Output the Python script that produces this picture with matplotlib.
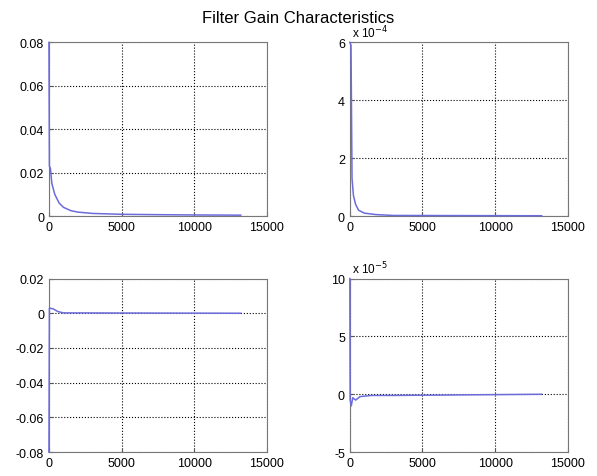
import matplotlib
matplotlib.use('Agg')
import matplotlib.pyplot as plt
from matplotlib.ticker import FuncFormatter

# --- data ---
x_k1 = [0, 30, 100, 200, 400, 700, 1000, 1500, 2000, 3000, 5000, 8000, 10000, 13200]
y_k1 = [0.08, 0.023, 0.022, 0.015, 0.010, 0.006, 0.004, 0.0025, 0.0018, 0.0012, 0.0008, 0.0006, 0.0005, 0.0004]

x_k2 = [0, 80, 150, 250, 400, 600, 1000, 1800, 3000, 13200]
y_k2 = [6.0, 5.9, 1.3, 0.7, 0.4, 0.2, 0.1, 0.05, 0.02, 0.01]  # x 1e-4

x_k3 = [0, 30, 300, 600, 1000, 13200]
y_k3 = [-0.08, 0.003, 0.0025, 0.001, 0.0002, 0.0]

x_k4 = [0, 20, 100, 200, 400, 700, 1500, 3000, 13200]
y_k4 = [10, -0.5, -1.0, -0.3, -0.5, -0.2, -0.1, -0.1, 0.0]  # x 1e-5

xticks = [0, 5000, 10000, 15000]

line_col = '#6b6bdc'
fig = plt.figure(figsize=(5.97, 4.77), dpi=100)
plt.rcParams['font.family'] = ['Liberation Sans', 'DejaVu Sans']

fig.text(0.5, 0.962, 'Filter Gain Characteristics', ha='center', va='center', fontsize=12)

left_col, right_col = 0.082, 0.586
top_row, bot_row = 0.545, 0.050
w, h = 0.365, 0.364

panels = [
    (left_col, top_row, x_k1, y_k1, (0, 0.08), [0, 0.02, 0.04, 0.06, 0.08], None),
    (right_col, top_row, x_k2, y_k2, (0, 6), [0, 2, 4, 6], '-4'),
    (left_col, bot_row, x_k3, y_k3, (-0.08, 0.02), [-0.08, -0.06, -0.04, -0.02, 0, 0.02], None),
    (right_col, bot_row, x_k4, y_k4, (-5, 10), [-5, 0, 5, 10], '-5'),
]

fmt = FuncFormatter(lambda v, p: '%g' % round(v, 6))

for l, b, xs, ys, ylim, yt, expo in panels:
    ax = fig.add_axes([l, b, w, h])
    ax.plot(xs, ys, color=line_col, lw=1.1, clip_on=False, zorder=5)
    ax.set_xlim(0, 15000)
    ax.set_ylim(*ylim)
    ax.set_xticks(xticks)
    ax.set_yticks(yt)
    ax.yaxis.set_major_formatter(fmt)
    ax.xaxis.set_major_formatter(fmt)
    ax.grid(True, color='black', linestyle=':', lw=0.8)
    ax.tick_params(direction='in', length=3, labelsize=9, color='#555555')
    for s in ax.spines.values():
        s.set_color('#777777')
    if expo:
        ax.text(0.01, 1.01, r'x 10$^{%s}$' % expo, transform=ax.transAxes,
                fontsize=8.5, ha='left', va='bottom')

plt.savefig('out.png', dpi=100)
